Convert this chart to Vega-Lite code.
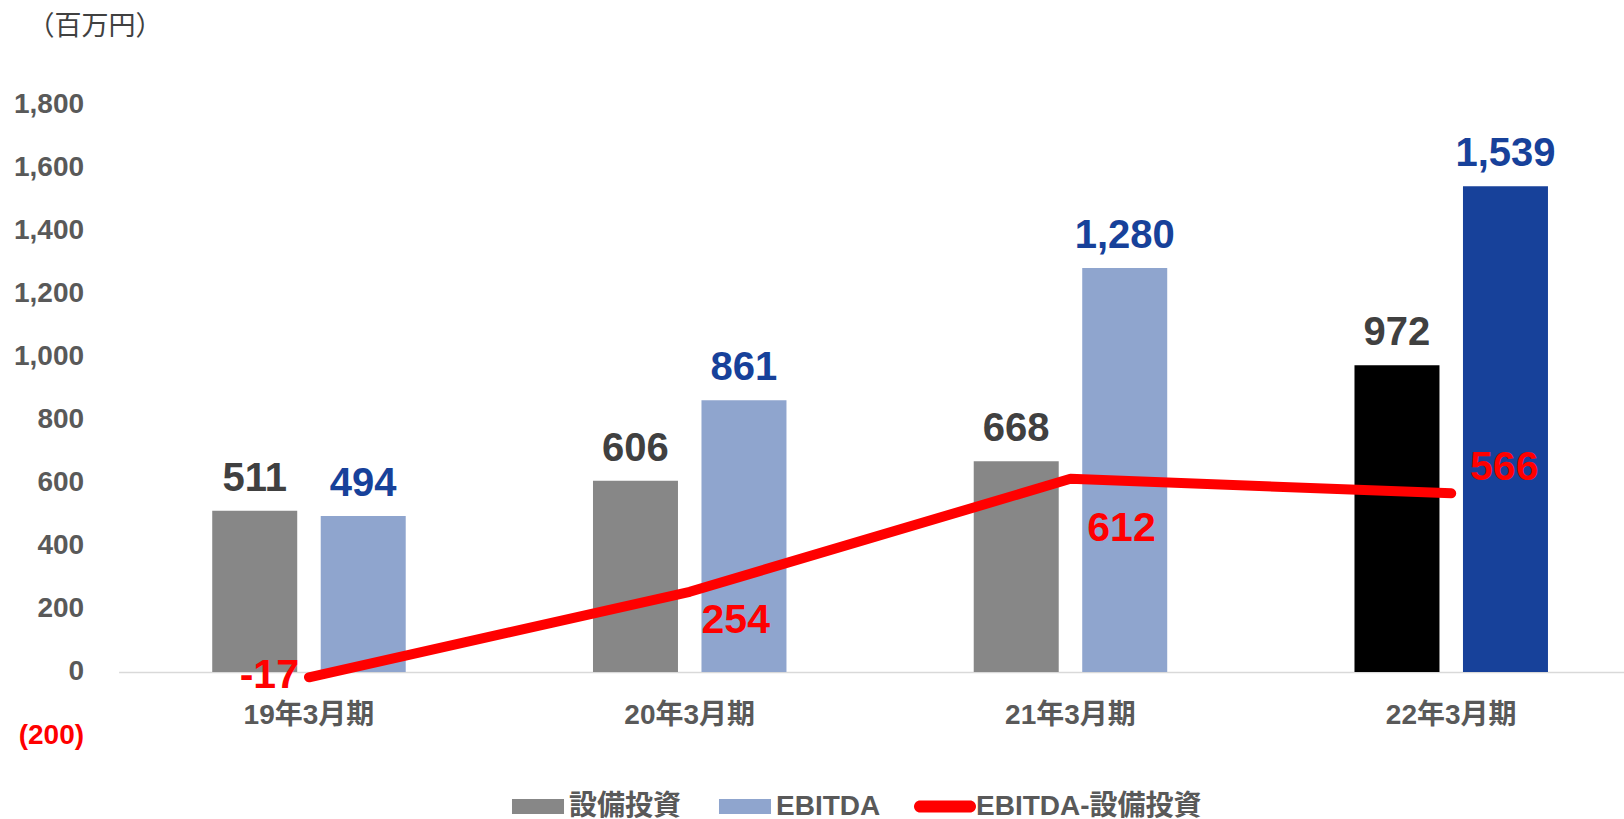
{
  "$schema": "https://vega.github.io/schema/vega-lite/v6.json",
  "width": 1505.4,
  "height": 631,
  "autosize": {"type": "none"},
  "padding": {"left": 118.6, "top": 104, "right": 0, "bottom": 84},
  "background": "white",
  "config": {
    "view": {"stroke": null},
    "font": "Liberation Sans, Noto Sans CJK JP",
    "locale": {"number": {"decimal": ".", "thousands": ",", "grouping": [3], "currency": ["$", ""], "minus": "-"}}
  },
  "title": {
    "text": "（百万円）",
    "anchor": "start",
    "frame": "group",
    "dx": -91,
    "offset": 49,
    "fontSize": 27,
    "fontWeight": "normal",
    "color": "#404040",
    "font": "Noto Sans CJK JP"
  },
  "datasets": {
    "bars": [
      {"period": "19年3月期", "series": "設備投資", "value": 511},
      {"period": "19年3月期", "series": "EBITDA", "value": 494},
      {"period": "20年3月期", "series": "設備投資", "value": 606},
      {"period": "20年3月期", "series": "EBITDA", "value": 861},
      {"period": "21年3月期", "series": "設備投資", "value": 668},
      {"period": "21年3月期", "series": "EBITDA", "value": 1280},
      {"period": "22年3月期", "series": "設備投資", "value": 972},
      {"period": "22年3月期", "series": "EBITDA", "value": 1539}
    ],
    "diff": [
      {"period": "19年3月期", "value": -17},
      {"period": "20年3月期", "value": 254},
      {"period": "21年3月期", "value": 612},
      {"period": "22年3月期", "value": 566}
    ]
  },
  "encoding": {
    "x": {
      "field": "period",
      "type": "nominal",
      "sort": null,
      "scale": {"range": [0, 1523], "paddingInner": 0, "paddingOuter": 0},
      "axis": {
        "title": null,
        "orient": "bottom",
        "offset": -63,
        "labelAngle": 0,
        "ticks": false,
        "domainColor": "#D9D9D9",
        "domainWidth": 1.5,
        "labelPadding": 29,
        "labelFontSize": 28,
        "labelFontWeight": "bold",
        "labelColor": "#595959"
      }
    },
    "y": {
      "field": "value",
      "type": "quantitative",
      "scale": {"domain": [-200, 1800], "nice": false, "zero": false},
      "axis": {
        "title": null,
        "values": [-200, 0, 200, 400, 600, 800, 1000, 1200, 1400, 1600, 1800],
        "grid": false,
        "domain": false,
        "ticks": false,
        "labelPadding": 35,
        "labelFontSize": 28,
        "labelFontWeight": "bold",
        "labelColor": {"condition": {"test": "datum.value < 0", "value": "#FF0000"}, "value": "#595959"},
        "labelExpr": "datum.value < 0 ? '(' + format(-datum.value, ',') + ')' : format(datum.value, ',')"
      }
    }
  },
  "layer": [
    {
      "data": {"name": "bars"},
      "mark": {"type": "bar"},
      "encoding": {
        "xOffset": {
          "field": "series",
          "type": "nominal",
          "sort": ["設備投資", "EBITDA"],
          "scale": {"domain": ["設備投資", "EBITDA"], "paddingInner": 0.2166, "paddingOuter": 0.863}
        },
        "color": {
          "field": "series",
          "type": "nominal",
          "scale": {
            "domain": ["設備投資", "EBITDA", "EBITDA-設備投資"],
            "range": ["#878787", "#8FA5CE", "#FF0000"]
          },
          "condition": [
            {"test": "datum.period === '22年3月期' && datum.series === '設備投資'", "value": "#000000"},
            {"test": "datum.period === '22年3月期' && datum.series === 'EBITDA'", "value": "#17419A"}
          ],
          "legend": {
            "title": null,
            "orient": "none",
            "direction": "horizontal",
            "legendX": 388.4,
            "legendY": 671.5,
            "padding": 0,
            "symbolSize": 3844,
            "symbolStrokeWidth": 0,
            "labelFontSize": 28,
            "labelFontWeight": "bold",
            "labelColor": "#595959",
            "labelOffset": 0,
            "labelLimit": 0,
            "columnPadding": 32,
            "encode": {
              "symbols": {
                "update": {
                  "shape": {"signal": "datum.value === 'EBITDA-設備投資' ? 'M-0.806,-0.194H0.806A0.194,0.194 0 0 1 0.806,0.194H-0.806A0.194,0.194 0 0 1 -0.806,-0.194Z' : 'M-0.839,-0.242H0.839V0.242H-0.839Z'"},
                  "strokeWidth": {"value": 0}
                }
              }
            }
          }
        }
      }
    },
    {
      "data": {"name": "bars"},
      "mark": {"type": "text", "baseline": "alphabetic", "align": "center", "dy": -20, "fontSize": 40, "fontWeight": "bold"},
      "encoding": {
        "xOffset": {
          "field": "series",
          "type": "nominal",
          "sort": ["設備投資", "EBITDA"],
          "scale": {"domain": ["設備投資", "EBITDA"], "paddingInner": 0.2166, "paddingOuter": 0.863}
        },
        "text": {"field": "value", "type": "quantitative", "format": ","},
        "color": {"condition": {"test": "datum.series === 'EBITDA'", "value": "#17419A"}, "value": "#404040"}
      }
    },
    {
      "data": {"name": "diff"},
      "mark": {"type": "line", "color": "#FF0000", "strokeWidth": 10, "strokeCap": "round", "strokeJoin": "round"},
      "encoding": {}
    },
    {
      "data": {"name": "diff"},
      "transform": [{"filter": "datum.period === '19年3月期'"}],
      "mark": {"type": "text", "baseline": "alphabetic", "align": "right", "dx": -10, "dy": 11, "fontSize": 41, "fontWeight": "bold", "color": "#FF0000"},
      "encoding": {"text": {"field": "value", "type": "quantitative", "format": ","}}
    },
    {
      "data": {"name": "diff"},
      "transform": [{"filter": "datum.period === '20年3月期'"}],
      "mark": {"type": "text", "baseline": "alphabetic", "align": "center", "dx": 46, "dy": 41, "fontSize": 41, "fontWeight": "bold", "color": "#FF0000"},
      "encoding": {"text": {"field": "value", "type": "quantitative", "format": ","}}
    },
    {
      "data": {"name": "diff"},
      "transform": [{"filter": "datum.period === '21年3月期'"}],
      "mark": {"type": "text", "baseline": "alphabetic", "align": "center", "dx": 51, "dy": 62, "fontSize": 41, "fontWeight": "bold", "color": "#FF0000"},
      "encoding": {"text": {"field": "value", "type": "quantitative", "format": ","}}
    },
    {
      "data": {"name": "diff"},
      "transform": [{"filter": "datum.period === '22年3月期'"}],
      "mark": {"type": "text", "baseline": "alphabetic", "align": "center", "dx": 53, "dy": -13, "fontSize": 41, "fontWeight": "bold", "color": "#FF0000"},
      "encoding": {"text": {"field": "value", "type": "quantitative", "format": ","}}
    }
  ]
}
